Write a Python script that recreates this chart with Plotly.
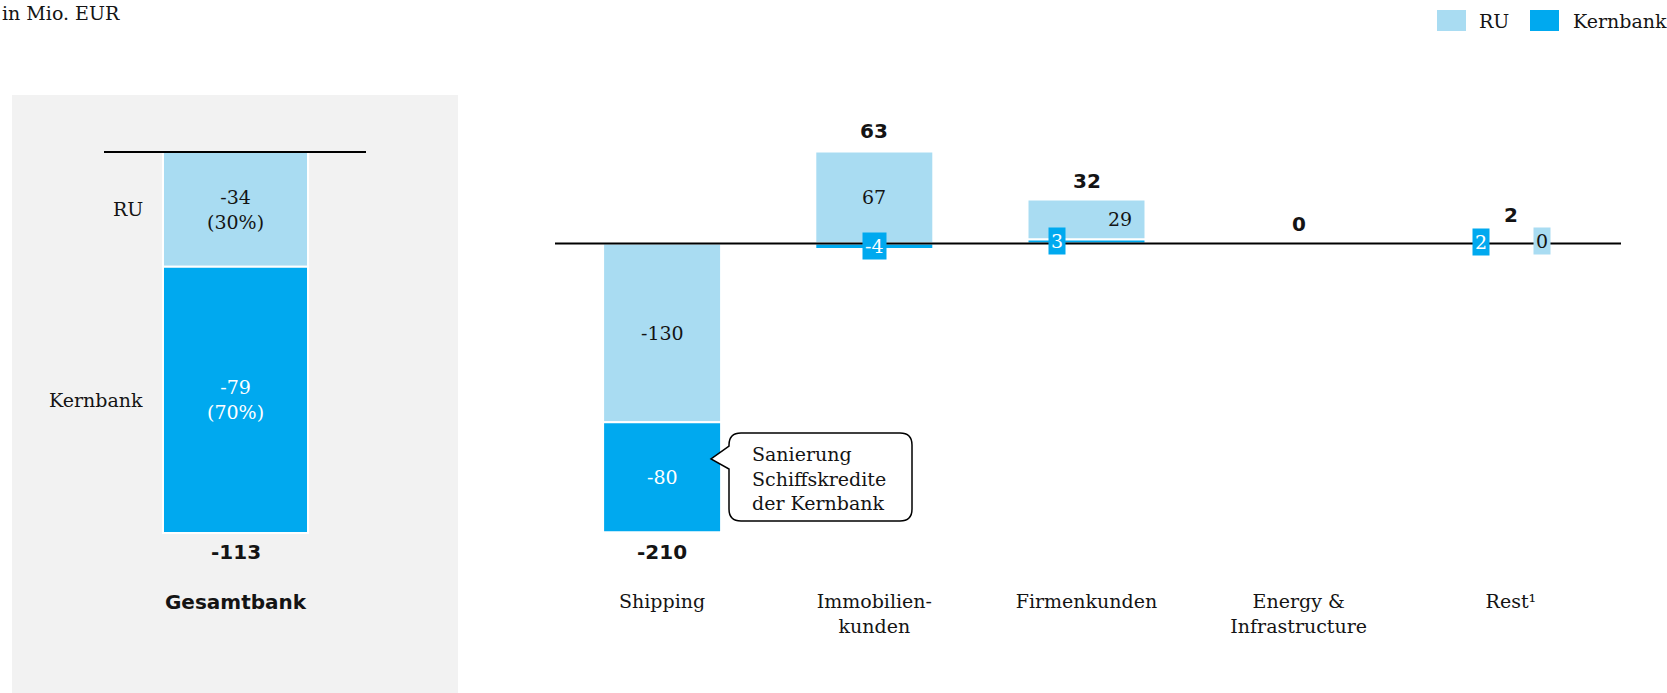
import plotly.graph_objects as go

W, H = 1667, 693

# ---------------- data ----------------
overall_category = ["Gesamtbank"]
overall_ru = [-34]
overall_kb = [-79]

segment_categories = ["Shipping", "Immobilien-<br>kunden", "Firmenkunden",
                      "Energy &<br>Infrastructure", "Rest¹"]
segment_ru = [-130, 67, 29, 0, 0]
segment_kb = [-80, -4, 3, 0, 2]

series_names = ["RU", "Kernbank"]
unit_text = "in Mio. EUR"
callout_text = "Sanierung<br>Schiffskredite<br>der Kernbank"

# ---------------- styles ----------------
RU_COLOR = "#A9DCF2"
KB_COLOR = "#00A9EF"
PANEL_GRAY = "#F2F2F2"
INK = "#141414"
SERIF = "DejaVu Serif"
SANS = "DejaVu Sans"
SERIF_SIZE = 19
BOLD_SIZE = 20

# pixel layout of the two panels
L_DOM = (0, 471)
R_DOM = (556, 1617)
L_Y_RANGE = [-160.44, 45.08]
R_Y_RANGE = [-326.9, 177.1]
L_BAR_PX = 145
R_UNIT_PX = (R_DOM[1] - R_DOM[0]) / len(segment_categories)
R_PX_PER_VAL = H / (R_Y_RANGE[1] - R_Y_RANGE[0])

# per-category bar geometry (px) and label nudges (px)
seg_bar_w_px = [118, 118, 118, 118, 18]
seg_ru_bar_dx = [0, 0, 0, 0, 31]
seg_kb_bar_dx = [0, 0, 0, 0, -30]
seg_ru_label_dx = [0, 0, 33, 0, 31]
seg_kb_label_dx = [0, 0, -30, 0, -30]
seg_show_labels = [True, True, True, False, True]
seg_total_lift = [20, 20, 19, 20, 26]


def fx(x):
    return x / W


def fy(y):
    return 1 - y / H


def stack(ru, kb):
    """Negative parts grow downward RU first; positive parts grow upward Kernbank first."""
    ru_base, kb_base, tops, bottoms = [], [], [], []
    for r, k in zip(ru, kb):
        pos, neg = 0, 0
        br = bk = 0
        if r < 0:
            br = neg
            neg += r
        if k < 0:
            bk = neg
            neg += k
        if k >= 0:
            bk = pos
            pos += k
        if r >= 0:
            br = pos
            pos += r
        ru_base.append(br)
        kb_base.append(bk)
        tops.append(pos)
        bottoms.append(neg)
    return ru_base, kb_base, tops, bottoms


fig = go.Figure()
bar_line = dict(color="white", width=2)

# ---------- left panel: Gesamtbank ----------
l_ru_base, l_kb_base, l_tops, l_bottoms = stack(overall_ru, overall_kb)
l_width = L_BAR_PX / (L_DOM[1] - L_DOM[0])
fig.add_trace(go.Bar(x=overall_category, y=overall_ru, base=l_ru_base, width=l_width,
                     marker=dict(color=RU_COLOR, line=bar_line), name=series_names[0],
                     xaxis="x", yaxis="y", showlegend=False, hoverinfo="skip"))
fig.add_trace(go.Bar(x=overall_category, y=overall_kb, base=l_kb_base, width=l_width,
                     marker=dict(color=KB_COLOR, line=bar_line), name=series_names[1],
                     xaxis="x", yaxis="y", showlegend=False, hoverinfo="skip"))

# ---------- right panel: segments ----------
r_ru_base, r_kb_base, r_tops, r_bottoms = stack(segment_ru, segment_kb)
r_w = [w / R_UNIT_PX for w in seg_bar_w_px]
r_ru_off = [(dx - w / 2) / R_UNIT_PX for dx, w in zip(seg_ru_bar_dx, seg_bar_w_px)]
r_kb_off = [(dx - w / 2) / R_UNIT_PX for dx, w in zip(seg_kb_bar_dx, seg_bar_w_px)]
fig.add_trace(go.Bar(x=segment_categories, y=segment_ru, base=r_ru_base, width=r_w, offset=r_ru_off,
                     marker=dict(color=RU_COLOR, line=bar_line), name=series_names[0],
                     xaxis="x2", yaxis="y2", showlegend=False, hoverinfo="skip"))
fig.add_trace(go.Bar(x=segment_categories, y=segment_kb, base=r_kb_base, width=r_w, offset=r_kb_off,
                     marker=dict(color=KB_COLOR, line=bar_line), name=series_names[1],
                     xaxis="x2", yaxis="y2", showlegend=False, hoverinfo="skip"))

annotations = []
serif = dict(family=SERIF, size=SERIF_SIZE, color=INK)
serif_white = dict(family=SERIF, size=SERIF_SIZE, color="white")
bold = dict(family=SANS, size=BOLD_SIZE, color=INK, weight="bold")

# left panel labels
l_total = overall_ru[0] + overall_kb[0]
for val, base, name, font in [(overall_ru[0], l_ru_base[0], series_names[0], serif),
                              (overall_kb[0], l_kb_base[0], series_names[1], serif_white)]:
    share = round(100 * val / l_total)
    annotations.append(dict(x=overall_category[0], y=base + val / 2, xref="x", yref="y",
                            yanchor="middle", text=f"{val}<br>({share}%)",
                            showarrow=False, font=font))
    annotations.append(dict(x=fx(145), xanchor="right", y=base + val / 2, xref="paper", yref="y",
                            yanchor="middle", text=name, showarrow=False, font=serif))
annotations.append(dict(x=overall_category[0], y=l_bottoms[0] if l_total < 0 else l_tops[0],
                        xref="x", yref="y", yanchor="middle", yshift=-19 if l_total < 0 else 19,
                        text=str(l_total), showarrow=False, font=bold))

# right panel segment labels
for i, cat in enumerate(segment_categories):
    if seg_show_labels[i]:
        for val, base, dx, fill, txt_color in [
                (segment_ru[i], r_ru_base[i], seg_ru_label_dx[i], RU_COLOR, INK),
                (segment_kb[i], r_kb_base[i], seg_kb_label_dx[i], KB_COLOR, "white")]:
            small = abs(val) * R_PX_PER_VAL < 20
            ann = dict(x=cat, y=base + val / 2, xref="x2", yref="y2", xshift=dx,
                       yanchor="middle", text=str(val), showarrow=False,
                       font=dict(family=SERIF, size=SERIF_SIZE, color=txt_color))
            if small:
                ann.update(bgcolor=fill, borderpad=2, height=22)
            annotations.append(ann)
    total = segment_ru[i] + segment_kb[i]
    if total >= 0:
        annotations.append(dict(x=cat, y=r_tops[i], xref="x2", yref="y2", yanchor="middle",
                                yshift=seg_total_lift[i], text=str(total),
                                showarrow=False, font=bold))
    else:
        annotations.append(dict(x=cat, y=r_bottoms[i], xref="x2", yref="y2", yanchor="middle",
                                yshift=-seg_total_lift[i], text=str(total),
                                showarrow=False, font=bold))

# unit note, legend texts, callout text
annotations.append(dict(x=0, xanchor="left", y=fy(13), yanchor="middle",
                        xref="paper", yref="paper", text=unit_text, showarrow=False, font=serif))
annotations.append(dict(x=fx(1477), xanchor="left", y=fy(21), yanchor="middle",
                        xref="paper", yref="paper", text=series_names[0], showarrow=False, font=serif))
annotations.append(dict(x=fx(1571), xanchor="left", y=fy(21), yanchor="middle",
                        xref="paper", yref="paper", text=series_names[1], showarrow=False, font=serif))
annotations.append(dict(x=fx(750), xanchor="left", y=fy(478), yanchor="middle",
                        xref="paper", yref="paper", text=callout_text, align="left",
                        showarrow=False, font=serif))

# ---------- shapes ----------
shapes = [
    dict(type="rect", xref="paper", yref="paper", x0=fx(12), x1=fx(458), y0=0, y1=fy(95),
         fillcolor=PANEL_GRAY, line=dict(width=0), layer="below"),
    dict(type="line", xref="paper", yref="y", x0=fx(104), x1=fx(366), y0=0, y1=0,
         line=dict(color="black", width=1.8), layer="above"),
    dict(type="line", xref="paper", yref="y2", x0=fx(555), x1=fx(1621), y0=0, y1=0,
         line=dict(color="black", width=1.8), layer="above"),
    dict(type="rect", xref="paper", yref="paper", x0=fx(1437), x1=fx(1466), y0=fy(31), y1=fy(10),
         fillcolor=RU_COLOR, line=dict(width=0)),
    dict(type="rect", xref="paper", yref="paper", x0=fx(1530), x1=fx(1559), y0=fy(31), y1=fy(10),
         fillcolor=KB_COLOR, line=dict(width=0)),
]

# speech bubble around the callout
bx0, bx1, by0, by1, rad = 729, 912, 433, 521, 12
tip = (711, 459)
pts = [
    f"M{fx(bx0 + rad)},{fy(by0)}",
    f"L{fx(bx1 - rad)},{fy(by0)}",
    f"Q{fx(bx1)},{fy(by0)} {fx(bx1)},{fy(by0 + rad)}",
    f"L{fx(bx1)},{fy(by1 - rad)}",
    f"Q{fx(bx1)},{fy(by1)} {fx(bx1 - rad)},{fy(by1)}",
    f"L{fx(bx0 + rad)},{fy(by1)}",
    f"Q{fx(bx0)},{fy(by1)} {fx(bx0)},{fy(by1 - rad)}",
    f"L{fx(bx0)},{fy(469)}",
    f"L{fx(tip[0])},{fy(tip[1])}",
    f"L{fx(bx0)},{fy(446)}",
    f"L{fx(bx0)},{fy(by0 + rad)}",
    f"Q{fx(bx0)},{fy(by0)} {fx(bx0 + rad)},{fy(by0)}",
    "Z",
]
shapes.append(dict(type="path", xref="paper", yref="paper", path=" ".join(pts),
                   fillcolor="white", line=dict(color="black", width=1.5), layer="above"))

fig.update_layout(
    width=W, height=H,
    margin=dict(l=0, r=0, t=0, b=0),
    paper_bgcolor="white", plot_bgcolor="rgba(0,0,0,0)",
    barmode="overlay",
    showlegend=False,
    shapes=shapes,
    annotations=annotations,
    xaxis=dict(domain=[fx(L_DOM[0]), fx(L_DOM[1])], range=[-0.5, 0.5], anchor="free",
               position=fy(588), showgrid=False, zeroline=False, showline=False, ticks="",
               tickfont=dict(family=SANS, size=BOLD_SIZE, color=INK, weight="bold")),
    yaxis=dict(domain=[0, 1], range=L_Y_RANGE, visible=False, anchor="x"),
    xaxis2=dict(domain=[fx(R_DOM[0]), fx(R_DOM[1])], range=[-0.5, len(segment_categories) - 0.5],
                anchor="free", position=fy(588), showgrid=False, zeroline=False, showline=False,
                ticks="", tickfont=dict(family=SERIF, size=SERIF_SIZE, color=INK)),
    yaxis2=dict(domain=[0, 1], range=R_Y_RANGE, visible=False, anchor="x2"),
)

fig.write_html("out.html")
